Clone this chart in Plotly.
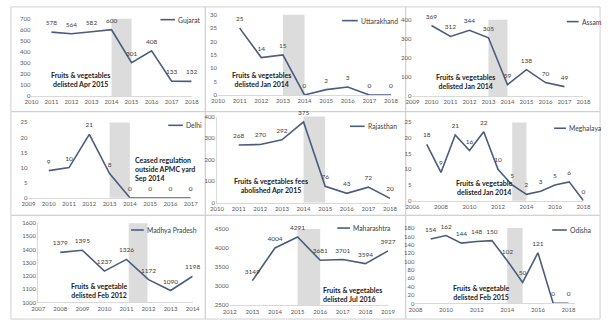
import plotly.graph_objects as go

# ---------------- data ----------------
gujarat_years = [2011, 2012, 2013, 2014, 2015, 2016, 2017, 2018]
gujarat_vals = [578, 564, 582, 600, 301, 408, 133, 132]

uttarakhand_years = [2011, 2012, 2013, 2014, 2015, 2016, 2017, 2018]
uttarakhand_vals = [25, 14, 15, 0, 2, 3, 0, 0]

assam_years = [2010, 2011, 2012, 2013, 2014, 2015, 2016, 2017]
assam_vals = [369, 312, 344, 305, 59, 138, 70, 49]

delhi_years = [2010, 2011, 2012, 2013, 2014, 2015, 2016, 2017]
delhi_vals = [9, 10, 21, 8, 0, 0, 0, 0]

rajasthan_years = [2011, 2012, 2013, 2014, 2015, 2016, 2017, 2018]
rajasthan_vals = [268, 270, 292, 375, 76, 43, 72, 20]

meghalaya_years = [2007, 2008, 2009, 2010, 2011, 2012, 2013, 2014, 2015, 2016, 2017, 2018]
meghalaya_vals = [18, 9, 21, 16, 22, 10, 5, 2, 3, 5, 6, 0]

mp_years = [2008, 2009, 2010, 2011, 2012, 2013, 2014]
mp_vals = [1379, 1395, 1237, 1326, 1172, 1090, 1198]

maharashtra_years = [2013, 2014, 2015, 2016, 2017, 2018, 2019]
maharashtra_vals = [3149, 4004, 4291, 3681, 3701, 3594, 3927]

odisha_years = [2009, 2010, 2011, 2012, 2013, 2014, 2015, 2016, 2017, 2018]
odisha_vals = [154, 162, 144, 148, 150, 102, 50, 121, 0, 0]

names = ["Gujarat", "Uttarakhand", "Assam", "Delhi", "Rajasthan", "Meghalaya",
         "Madhya Pradesh", "Maharashtra", "Odisha"]
years = [gujarat_years, uttarakhand_years, assam_years, delhi_years, rajasthan_years,
         meghalaya_years, mp_years, maharashtra_years, odisha_years]
values = [gujarat_vals, uttarakhand_vals, assam_vals, delhi_vals, rajasthan_vals,
          meghalaya_vals, mp_vals, maharashtra_vals, odisha_vals]
shade_periods = [(2014, 2015), (2013, 2014), (2013, 2014), (2013, 2014), (2014, 2015),
                 (2013, 2014), (2011.1, 2011.95), (2015, 2016), (2014, 2015)]
notes = [
    "Fruits & vegetables<br>delisted Apr 2015",
    "Fruits & vegetables<br>delisted Jan 2014",
    "Fruits & vegetables<br>delisted Jan 2014",
    "Ceased regulation<br>outside APMC yard<br>Sep 2014",
    "Fruits & vegetables fees<br>abolished Apr 2015",
    "Fruits & vegetable<br>delisted Jan 2014",
    "Fruits & vegetable<br>delisted Feb 2012",
    "Fruits & vegetables<br>delisted Jul 2016",
    "Fruits & vegetable<br>delisted Feb 2015",
]

# ---------------- layout geometry (pixels) ----------------
W, H = 610, 324
def px(p):
    return p / W
def py(p):
    return 1 - p / H

geo = [
    dict(xr=(2010, 2018), xp=(25, 189), yr=(0, 700), yp=(94, 15), xd=1, yd=100,
         leg=(157, 172, 16), note=(75, 77, "center"), yline=False),
    dict(xr=(2010, 2018), xp=(216, 393), yr=(0, 30), yp=(93, 11), xd=1, yd=5,
         leg=(343, 359, 17), note=(260, 77, "center"), yline=False),
    dict(xr=(2009, 2018), xp=(415, 590), yr=(0, 400), yp=(94, 16), xd=1, yd=100,
         leg=(573, 585, 18), note=(469, 79, "center"), yline=False),
    dict(xr=(2009, 2017), xp=(22, 188), yr=(0, 25), yp=(198, 121), xd=1, yd=5,
         leg=(165, 180, 124), note=(129, 169, "left"), yline=False),
    dict(xr=(2010, 2018), xp=(215, 392), yr=(0, 400), yp=(203, 115), xd=1, yd=100,
         leg=(351, 366, 125), note=(270, 185, "center"), yline=True),
    dict(xr=(2006, 2018), xp=(415, 590), yr=(0, 25), yp=(201, 121), xd=2, yd=5,
         leg=(560, 572, 127), note=(489, 188, "center"), yline=False),
    dict(xr=(2007, 2014), xp=(32, 190), yr=(1000, 1600), yp=(305, 224), xd=1, yd=100,
         leg=(127, 140, 231), note=(95, 293, "center"), yline=True),
    dict(xr=(2012, 2019), xp=(228, 390), yr=(2500, 4500), yp=(308, 230), xd=1, yd=500,
         leg=(338, 351, 229), note=(321, 297, "left"), yline=False),
    dict(xr=(2008, 2018.4), xp=(418, 581), yr=(0, 180), yp=(306, 229), xd=2, yd=20,
         leg=(558, 573, 231), note=(486, 295, "center"), yline=False),
]

panels_px = [
    (4, 3, 203, 110), (203, 3, 408, 110), (408, 3, 607, 110),
    (4, 110, 203, 216), (203, 110, 408, 216), (408, 110, 607, 216),
    (4, 216, 203, 322), (203, 216, 408, 322), (408, 216, 607, 322),
]

LINE = "#4b5c7c"
FAM = "Lato, Open Sans, sans-serif"
TICK_FONT = dict(family=FAM, size=6, color="#595959")
fig = go.Figure()
shapes = []
annotations = []
layout = {}

for i in range(9):
    g = geo[i]
    suf = "" if i == 0 else str(i + 1)
    xa, ya = "x" + suf, "y" + suf
    fig.add_trace(go.Scatter(
        x=years[i], y=values[i], xaxis=xa, yaxis=ya, mode="lines+markers+text",
        line=dict(color=LINE, width=1.6),
        marker=dict(size=7, color="rgba(0,0,0,0)"),
        text=[str(v) for v in values[i]],
        textposition="top center",
        textfont=dict(family=FAM, size=6.5, color="#404040"),
        cliponaxis=False, showlegend=False, hoverinfo="skip"))
    layout["xaxis" + suf] = dict(
        domain=[px(g["xp"][0]), px(g["xp"][1])], range=list(g["xr"]), anchor=ya,
        tickmode="linear", tick0=int(g["xr"][0]),
        dtick=g["xd"], showgrid=False, zeroline=False, showline=True,
        linecolor="#d9d9d9", linewidth=1, ticks="", tickfont=TICK_FONT)
    layout["yaxis" + suf] = dict(
        domain=[py(g["yp"][0]), py(g["yp"][1])], range=list(g["yr"]), anchor=xa,
        tickmode="linear", tick0=g["yr"][0], dtick=g["yd"], showgrid=False,
        zeroline=False, showline=g["yline"], linecolor="#d9d9d9", linewidth=1,
        ticks="", tickfont=TICK_FONT)
    s0, s1 = shade_periods[i]
    shapes.append(dict(type="rect", xref=xa, yref=ya + " domain", x0=s0, x1=s1,
                       y0=0, y1=1, fillcolor="#dcdcdc", line=dict(width=0),
                       layer="below"))
    lx0, lx1, ly = g["leg"]
    shapes.append(dict(type="line", xref="paper", yref="paper", x0=px(lx0), x1=px(lx1),
                       y0=py(ly), y1=py(ly), line=dict(color=LINE, width=1.6)))
    annotations.append(dict(xref="paper", yref="paper", x=px(lx1 + 1), y=py(ly),
                            xanchor="left", yanchor="middle", showarrow=False,
                            text=names[i],
                            font=dict(family=FAM, size=6.8, color="#404040")))
    nx, ny, nanc = g["note"]
    annotations.append(dict(xref="paper", yref="paper", x=px(nx), y=py(ny),
                            xanchor=nanc, yanchor="middle", align=nanc,
                            showarrow=False, text="<b>" + notes[i] + "</b>",
                            font=dict(family=FAM, size=7, color="#222222")))

for (x0, y0, x1, y1) in panels_px:
    shapes.append(dict(type="rect", xref="paper", yref="paper", x0=px(x0), x1=px(x1),
                       y0=py(y1), y1=py(y0), line=dict(color="#d0d0d0", width=1),
                       fillcolor="rgba(0,0,0,0)", layer="below"))

fig.update_layout(width=W, height=H, margin=dict(l=0, r=0, t=0, b=0),
                  paper_bgcolor="white", plot_bgcolor="white",
                  shapes=shapes, annotations=annotations, **layout)
fig.write_html("out.html")
